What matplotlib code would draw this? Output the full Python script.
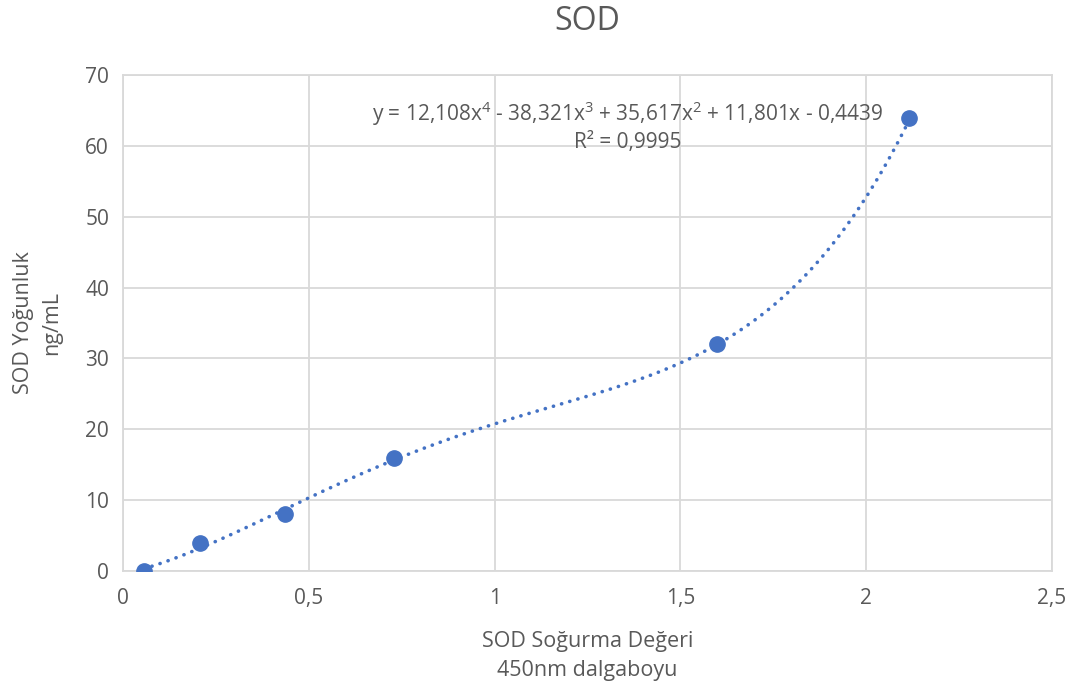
import numpy as np
import matplotlib
matplotlib.use("Agg")
import matplotlib.pyplot as plt

# Ölçüm noktaları (okunan değerler)
absorbans = [0.056, 0.206, 0.437, 0.728, 1.599, 2.115]
konsantrasyon = [0, 4, 8, 16, 32, 64]

# Grafikte yazan polinom trend çizgisi katsayıları (x^4 ... x^0)
katsayilar = [12.108, -38.321, 35.617, 11.801, -0.4439]
denklem = "y = 12,108x$^4$ - 38,321x$^3$ + 35,617x$^2$ + 11,801x - 0,4439"
r2_metni = "R² = 0,9995"

xticks = [0, 0.5, 1, 1.5, 2, 2.5]
xtick_labels = ["0", "0,5", "1", "1,5", "2", "2,5"]
yticks = [0, 10, 20, 30, 40, 50, 60, 70]

plt.rcParams["font.family"] = ["Open Sans", "DejaVu Sans"]
plt.rcParams["mathtext.fontset"] = "custom"
plt.rcParams["mathtext.rm"] = "Open Sans"
plt.rcParams["mathtext.it"] = "Open Sans"
plt.rcParams["mathtext.default"] = "regular"

MAVI = "#4472C4"
GRI = "#595959"
IZGARA = "#D9D9D9"

W, H = 1081, 690
fig = plt.figure(figsize=(W / 100, H / 100), dpi=100)
sol, sag, ust, alt = 123, 1052, 75, 571
ax = fig.add_axes([sol / W, 1 - alt / H, (sag - sol) / W, (alt - ust) / H])

xx = np.linspace(min(absorbans), max(absorbans), 300)
ax.plot(xx, np.polyval(katsayilar, xx), color=MAVI, lw=2.6,
        linestyle=(0, (0.05, 2.3)), dash_capstyle="round", zorder=3)
ax.plot(absorbans, konsantrasyon, "o", color=MAVI, markersize=11, zorder=4)

ax.set_xlim(0, 2.5)
ax.set_ylim(0, 70)
ax.set_xticks(xticks)
ax.set_xticklabels(xtick_labels)
ax.set_yticks(yticks)
ax.grid(True, color=IZGARA, lw=1.3)
ax.set_axisbelow(True)
for s in ax.spines.values():
    s.set_color(IZGARA)
    s.set_linewidth(1.3)
ax.tick_params(length=0, labelsize=15, colors=GRI)
ax.tick_params(axis="x", pad=12)
ax.tick_params(axis="y", pad=10)

ax.text(1.357, 64.6, denklem, ha="center", va="center", fontsize=15, color=GRI)
ax.text(1.357, 60.5, r2_metni, ha="center", va="center", fontsize=15, color=GRI)

fig.text((sol + sag) / 2 / W, 1 - 22 / H, "SOD", ha="center", va="center",
         fontsize=23, color=GRI)
fig.text((sol + sag) / 2 / W, 1 - 656 / H, "SOD Soğurma Değeri\n450nm dalgaboyu",
         ha="center", va="center", fontsize=15.5, color=GRI, linespacing=1.45)
fig.text(37.5 / W, 1 - 323 / H, "SOD Yoğunluk\nng/mL", ha="center", va="center",
         rotation=90, fontsize=15.5, color=GRI, linespacing=1.45)

fig.savefig("out.png", dpi=100)
